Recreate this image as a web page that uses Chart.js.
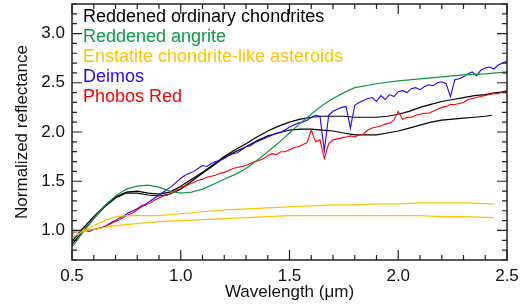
<!DOCTYPE html>
<html>
<head>
<meta charset="utf-8">
<script src="https://cdn.jsdelivr.net/npm/chart.js@4.4.1/dist/chart.umd.min.js"></script>
<style>
  html, body { margin: 0; padding: 0; background: #fff; }
  #wrap { width: 524px; height: 304px; }
</style>
</head>
<body>
<div id="wrap"><canvas id="spectra"></canvas></div>
<script>
// tick labels
const xTicks = [0.5, 1.0, 1.5, 2.0, 2.5];
const yTicks = [1.0, 1.5, 2.0, 2.5, 3.0];

// legend
const legendLabels = ['Reddened ordinary chondrites', 'Reddened angrite', 'Enstatite chondrite-like asteroids', 'Deimos', 'Phobos Red'];
const legendColors = ['#000000', '#0b9a45', '#ffc400', '#2a00ff', '#ff0000'];

// Reddened ordinary chondrites (two curves)
const chondWl1 = [0.50,0.55,0.60,0.65,0.70,0.75,0.80,0.85,0.90,0.95,1.00,1.05,1.10,1.15,1.20,1.25,1.30,1.35,1.40,1.45,1.50,1.55,1.60,1.65,1.70,1.75,1.80,1.85,1.90,1.95,2.00,2.05,2.10,2.15,2.20,2.25,2.30,2.35,2.40,2.45,2.50];
const chondR1  = [0.89,1.02,1.14,1.25,1.34,1.39,1.40,1.38,1.37,1.39,1.45,1.52,1.59,1.67,1.75,1.82,1.88,1.95,2.01,2.06,2.10,2.13,2.15,2.16,2.16,2.16,2.15,2.15,2.15,2.16,2.18,2.21,2.25,2.28,2.31,2.33,2.35,2.37,2.38,2.40,2.41];
const chondWl2 = [0.50,0.55,0.60,0.65,0.70,0.75,0.80,0.85,0.90,0.95,1.00,1.05,1.10,1.15,1.20,1.25,1.30,1.35,1.40,1.45,1.50,1.55,1.60,1.65,1.70,1.75,1.80,1.85,1.90,1.95,2.00,2.05,2.10,2.15,2.20,2.25,2.30,2.35,2.40,2.43];
const chondR2  = [0.86,0.99,1.12,1.24,1.33,1.38,1.38,1.36,1.35,1.37,1.42,1.50,1.58,1.66,1.74,1.80,1.85,1.91,1.96,1.99,2.02,2.03,2.03,2.02,2.01,1.99,1.97,1.97,1.97,1.99,2.01,2.04,2.07,2.10,2.12,2.13,2.14,2.15,2.16,2.17];

// Reddened angrite
const angriteWl = [0.50,0.55,0.60,0.65,0.70,0.75,0.80,0.85,0.90,0.95,1.00,1.05,1.10,1.15,1.20,1.25,1.30,1.35,1.40,1.45,1.50,1.55,1.60,1.65,1.70,1.75,1.80,1.90,2.00,2.10,2.20,2.30,2.40,2.50];
const angriteR  = [0.83,0.98,1.12,1.25,1.35,1.42,1.45,1.46,1.44,1.40,1.38,1.39,1.42,1.47,1.52,1.57,1.63,1.71,1.80,1.89,1.99,2.09,2.18,2.27,2.34,2.40,2.45,2.49,2.52,2.54,2.56,2.58,2.59,2.61];

// Enstatite chondrite-like asteroids (two curves)
const enstWl1 = [0.50,0.55,0.60,0.65,0.70,0.75,0.80,0.85,0.90,0.95,1.00,1.10,1.20,1.30,1.40,1.50,1.60,1.70,1.80,1.90,2.00,2.10,2.20,2.30,2.44];
const enstR1  = [0.93,0.99,1.05,1.10,1.14,1.15,1.15,1.15,1.15,1.16,1.17,1.19,1.21,1.22,1.23,1.24,1.25,1.26,1.26,1.27,1.27,1.28,1.28,1.28,1.27];
const enstWl2 = [0.50,0.55,0.60,0.65,0.70,0.80,0.90,1.00,1.10,1.20,1.30,1.40,1.50,1.60,1.70,1.80,1.90,2.00,2.10,2.20,2.30,2.44];
const enstR2  = [0.98,1.00,1.01,1.03,1.05,1.07,1.09,1.10,1.11,1.12,1.13,1.14,1.15,1.15,1.15,1.15,1.15,1.15,1.15,1.14,1.14,1.13];

// Deimos and Phobos Red, sampled every 0.02 um from 0.50 to 2.50
const specWl = [];
for (let i = 0; i <= 100; i++) specWl.push(+(0.5 + i * 0.02).toFixed(2));
const deimosR = [
  0.97,0.99,0.98,1.00,0.99,1.01,1.02,1.03,1.05,1.08,
  1.10,1.13,1.15,1.18,1.20,1.22,1.25,1.27,1.30,1.33,
  1.36,1.39,1.42,1.45,1.49,1.53,1.56,1.58,1.60,1.63,
  1.66,1.65,1.68,1.70,1.71,1.73,1.76,1.78,1.79,1.82,
  1.85,1.86,1.89,1.91,1.93,1.95,1.97,1.99,2.00,2.02,
  2.05,2.07,2.09,2.10,2.12,2.15,2.17,2.16,1.81,2.17,
  2.21,2.23,2.25,2.26,2.04,2.27,2.30,2.32,2.34,2.35,
  2.31,2.37,2.33,2.38,2.36,2.41,2.42,2.40,2.44,2.45,
  2.43,2.46,2.48,2.47,2.50,2.51,2.49,2.36,2.53,2.54,
  2.56,2.59,2.61,2.57,2.63,2.65,2.66,2.64,2.68,2.70,
  2.72
];
const phobosR = [
  0.99,1.00,0.99,1.00,1.01,1.01,1.02,1.03,1.05,1.07,
  1.09,1.11,1.14,1.16,1.18,1.21,1.24,1.26,1.28,1.31,
  1.33,1.35,1.36,1.38,1.41,1.44,1.45,1.47,1.49,1.51,
  1.52,1.54,1.55,1.56,1.58,1.59,1.61,1.63,1.64,1.65,
  1.66,1.68,1.70,1.71,1.73,1.76,1.78,1.77,1.80,1.80,
  1.82,1.84,1.85,1.87,1.89,2.02,1.90,1.92,1.73,1.88,
  1.92,1.93,1.94,1.95,1.96,1.95,1.97,1.98,2.02,2.04,
  2.05,2.06,2.08,2.09,2.12,2.21,2.13,2.15,2.15,2.17,
  2.18,2.19,2.19,2.21,2.23,2.25,2.26,2.28,2.28,2.29,
  2.30,2.33,2.34,2.35,2.36,2.37,2.38,2.39,2.39,2.41,
  2.42
];

function pts(wl, r) {
  return wl.map((x, i) => ({ x: x, y: r[i] }));
}

function line(label, wl, r, color, width) {
  return {
    label: label,
    data: pts(wl, r),
    borderColor: color,
    borderWidth: width,
    pointRadius: 0,
    fill: false,
    tension: 0
  };
}

const datasets = [
  line('Enstatite chondrite-like asteroids', enstWl1, enstR1, legendColors[2], 1.2),
  line('Enstatite chondrite-like asteroids', enstWl2, enstR2, legendColors[2], 1.2),
  line('Reddened angrite', angriteWl, angriteR, legendColors[1], 1.2),
  line('Phobos Red', specWl, phobosR, legendColors[4], 1.1),
  line('Deimos', specWl, deimosR, legendColors[3], 1.1),
  line('Reddened ordinary chondrites', chondWl1, chondR1, legendColors[0], 1.2),
  line('Reddened ordinary chondrites', chondWl2, chondR2, legendColors[0], 1.2)
];

// box with inward ticks on all four sides, plus the text legend
const framePlugin = {
  id: 'frame',
  afterDatasetsDraw(chart) {
    const ctx = chart.ctx;
    const a = chart.chartArea;
    const xs = chart.scales.x, ys = chart.scales.y;
    ctx.save();
    ctx.strokeStyle = '#222';
    ctx.lineWidth = 1.5;
    ctx.strokeRect(a.left, a.top, a.right - a.left, a.bottom - a.top);
    ctx.lineWidth = 1.2;
    ctx.beginPath();
    for (let i = 5; i <= 25; i++) {
      const px = xs.getPixelForValue(i / 10);
      const len = i % 5 === 0 ? 10 : 5;
      ctx.moveTo(px, a.bottom); ctx.lineTo(px, a.bottom - len);
      ctx.moveTo(px, a.top); ctx.lineTo(px, a.top + len);
    }
    for (let i = 7; i <= 33; i++) {
      const py = ys.getPixelForValue(i / 10);
      const len = i % 5 === 0 ? 10 : 5;
      ctx.moveTo(a.left, py); ctx.lineTo(a.left + len, py);
      ctx.moveTo(a.right, py); ctx.lineTo(a.right - len, py);
    }
    ctx.stroke();

    ctx.font = '18px "Liberation Sans", Arial, sans-serif';
    ctx.textBaseline = 'middle';
    ctx.textAlign = 'left';
    legendLabels.forEach((t, i) => {
      ctx.fillStyle = legendColors[i];
      ctx.fillText(t, a.left + 11, a.top + 13 + i * 20);
    });
    ctx.restore();
  }
};

const tickFont = { family: '"Liberation Sans", Arial, sans-serif', size: 17 };

const config = {
  type: 'line',
  data: { datasets: datasets },
  options: {
    responsive: true,
    maintainAspectRatio: false,
    animation: false,
    layout: { padding: { top: 4, right: 17, left: 0, bottom: 0 } },
    plugins: {
      legend: { display: false },
      tooltip: { enabled: false }
    },
    scales: {
      x: {
        type: 'linear',
        min: 0.5,
        max: 2.5,
        afterBuildTicks: (s) => { s.ticks = xTicks.map(v => ({ value: v })); },
        afterFit: (s) => { s.height = 44; s.paddingLeft = 0; s.paddingRight = 0; },
        grid: { display: false, drawTicks: false },
        border: { display: false },
        ticks: { color: '#111', font: tickFont, padding: 6, maxRotation: 0, callback: (v) => v.toFixed(1) },
        title: { display: true, text: 'Wavelength (μm)', color: '#111', font: tickFont, padding: { top: 0, bottom: 1 } }
      },
      y: {
        min: 0.7,
        max: 3.3,
        afterBuildTicks: (s) => { s.ticks = yTicks.map(v => ({ value: v })); },
        afterFit: (s) => { s.width = 72; s.paddingTop = 0; s.paddingBottom = 0; },
        grid: { display: false, drawTicks: false },
        border: { display: false },
        ticks: { color: '#111', font: tickFont, padding: 7, callback: (v) => v.toFixed(1) },
        title: { display: true, text: 'Normalized reflectance', color: '#111', font: tickFont, padding: { top: 12, bottom: 0 } }
      }
    }
  },
  plugins: [framePlugin]
};

const spectraChart = new Chart(document.getElementById('spectra'), config);
</script>
</body>
</html>
